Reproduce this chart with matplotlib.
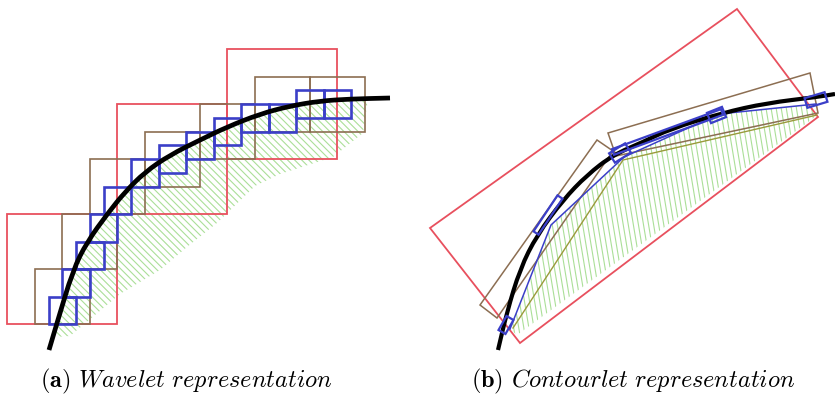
import matplotlib
matplotlib.use("Agg")
import numpy as np
import matplotlib.pyplot as plt
from matplotlib.patches import Rectangle, Polygon, PathPatch
from matplotlib.path import Path
from matplotlib.collections import LineCollection

plt.rcParams["mathtext.fontset"] = "cm"

# ---- (a) wavelet: squares given as (column, row) on a grid of cells ----
red_squares = [(0, 0), (8, 8), (16, 12)]
brown_squares = [(2, 0), (4, 4), (6, 8), (10, 10), (14, 12), (18, 14), (22, 14)]
blue_squares = [(3, 0), (4, 2), (5, 4), (6, 6), (7, 8), (9, 10), (11, 11),
                (13, 12), (15, 13), (17, 14), (19, 14), (21, 15), (23, 15)]

# contour (pixel coords of the picture)
curve_a_x = [49, 57, 73, 87, 108, 125, 145, 170, 200, 227, 260, 290, 320, 350, 390]
curve_a_y = [350, 323, 270, 242, 213, 192, 172, 155, 140, 127, 114, 106, 101, 99, 98]
# lower edge of the shaded region
shade_a_x = [70, 120, 160, 187, 217, 255, 280, 333, 363, 368]
shade_a_y = [336, 294, 270, 247, 223, 186, 174, 157, 133, 99]

# ---- (b) contourlet ----
curve_b_x = [498, 507, 520, 537, 563, 587, 613, 643, 670, 722, 767, 817, 835]
curve_b_y = [350, 312, 269, 235, 200, 175, 155, 142, 129, 113, 103, 97, 94]
red_rect_b = [(430, 228), (737, 9), (818, 117), (520, 343)]
brown_rects_b = [[(480, 305), (597, 140), (613, 151), (497, 318)],
                 [(608, 133), (810, 73), (818, 113), (616, 156)]]
olive_line_b = [(513, 328), (623, 160), (817, 115)]
blue_line_b = [(510, 329), (551, 225), (624, 157), (719, 114), (816, 104)]
# small blue elements along the contour: (start, end, thickness)
blue_bits_b = [((502, 332), (510, 318), 8), ((536, 233), (560, 197), 6),
               ((613, 152), (722, 112), 6), ((612, 158), (628, 148), 11),
               ((709, 118), (724, 112), 11), ((806, 103), (826, 97), 10)]
shade_b_low = [(815, 117), (517, 335)]

captions = ["(a)", "(b)"]
caption_texts = ["Wavelet representation", "Contourlet representation"]

RED = "#e8505e"
BROWN = "#8c6e52"
BLUE = "#3b3fc8"
OLIVE = "#9a9a3c"
GREEN = "#abdf98"

U = 13.75
OX, OY = 7.3, 324


def hatch(ax, poly_pts, direction, spacing):
    poly = Polygon(poly_pts, closed=True, facecolor="none", edgecolor="none")
    ax.add_patch(poly)
    d = np.array(direction, float)
    d /= np.hypot(*d)
    n = np.array([-d[1], d[0]])
    pts = np.array(poly_pts, float)
    proj = pts @ n
    segs = []
    for off in np.arange(proj.min(), proj.max(), spacing):
        c = n * off
        segs.append([c - d * 600, c + d * 600])
    lc = LineCollection(segs, colors=GREEN, linewidths=0.8, zorder=0.5)
    lc.set_clip_path(poly)
    ax.add_collection(lc)


def smooth_curve(ax, xs, ys, lw):
    # quadratic bezier through the midpoints, the read points act as controls
    p = np.column_stack([xs, ys]).astype(float)
    mids = (p[:-1] + p[1:]) / 2
    verts = [p[0], mids[0]]
    codes = [Path.MOVETO, Path.LINETO]
    for i in range(1, len(p) - 1):
        verts += [p[i], mids[i]]
        codes += [Path.CURVE3, Path.CURVE3]
    verts.append(p[-1])
    codes.append(Path.LINETO)
    ax.add_patch(PathPatch(Path(verts, codes), fill=False, edgecolor="black",
                           linewidth=lw, capstyle="butt", joinstyle="round", zorder=4))


fig = plt.figure(figsize=(8.35, 3.97), dpi=100)
ax = fig.add_axes([0, 0, 1, 1])
ax.set_xlim(0, 835)
ax.set_ylim(397, 0)
ax.axis("off")

# (a) shaded area between contour and lower edge
top = [(x, y) for x, y in zip(curve_a_x, curve_a_y) if y <= 337]
low = list(zip(shade_a_x, shade_a_y))[::-1]
hatch(ax, [(55, 337)] + top[:-2] + low, (1, 1), 5)

for squares, size, col, lw in [(red_squares, 8, RED, 1.3),
                               (brown_squares, 4, BROWN, 1.2),
                               (blue_squares, 2, BLUE, 1.9)]:
    for c, r in squares:
        ax.add_patch(Rectangle((OX + c * U, OY - (r + size) * U), size * U, size * U,
                               fill=False, edgecolor=col, linewidth=lw, zorder=2))

smooth_curve(ax, curve_a_x, curve_a_y, 3.4)

# (b)
hatch(ax, blue_line_b + shade_b_low, (1, 6), 5)
ax.add_patch(Polygon(red_rect_b, closed=True, fill=False, edgecolor=RED,
                     linewidth=1.3, zorder=2))
for rect in brown_rects_b:
    ax.add_patch(Polygon(rect, closed=True, fill=False, edgecolor=BROWN,
                         linewidth=1.1, zorder=2))
ox, oy = zip(*olive_line_b)
ax.plot(ox, oy, color=OLIVE, linewidth=1.0, zorder=2)
bx, by = zip(*blue_line_b)
ax.plot(bx, by, color=BLUE, linewidth=1.1, zorder=3)
smooth_curve(ax, curve_b_x, curve_b_y, 3.0)
for p0, p1, w in blue_bits_b:
    p0, p1 = np.array(p0, float), np.array(p1, float)
    d = p1 - p0
    n = np.array([-d[1], d[0]]) / np.hypot(*d) * w / 2
    ax.add_patch(Polygon([p0 + n, p1 + n, p1 - n, p0 - n], closed=True,
                         fill=False, edgecolor=BLUE, linewidth=1.6, zorder=5))

# captions
for xc, lab, txt in zip([186, 633], captions, caption_texts):
    ax.text(xc, 381, r"$\mathbf{" + lab + r"}$ $\mathit{" + txt.replace(" ", r"\ ") + "}$",
            ha="center", va="center", fontsize=17.5)

fig.savefig("out.png", dpi=100)
